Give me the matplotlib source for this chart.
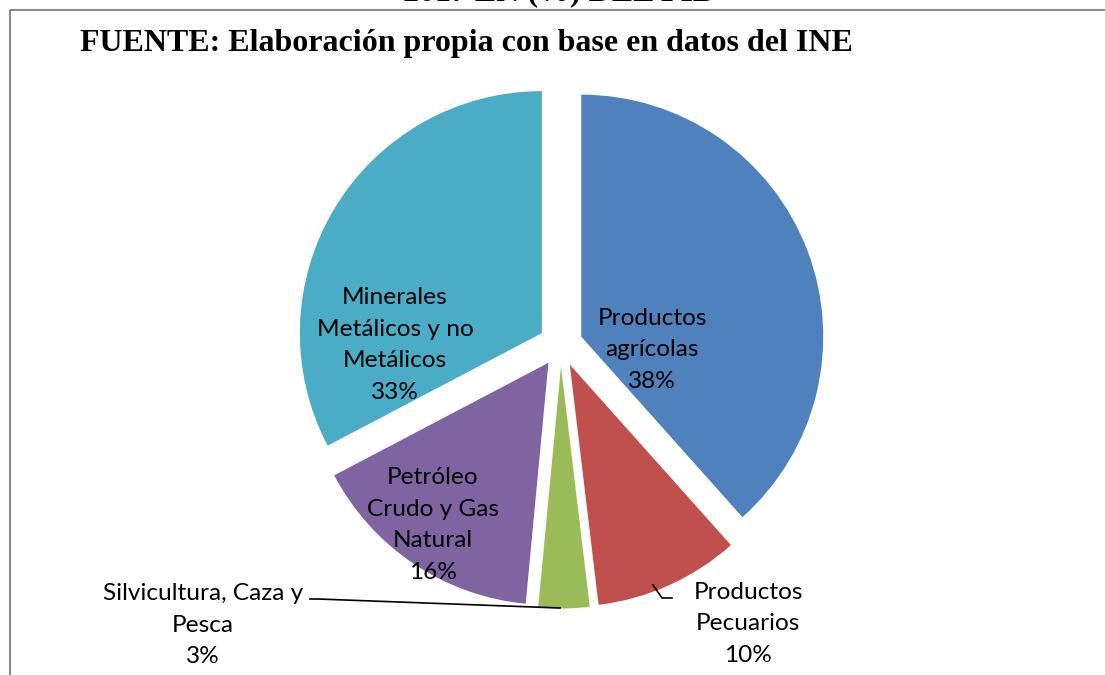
import matplotlib
matplotlib.use('Agg')
import matplotlib.pyplot as plt

# data (percent of GDP, INE)
categories = ['Productos\nagrícolas', 'Productos\nPecuarios', 'Silvicultura, Caza y\nPesca',
              'Petróleo\nCrudo y Gas\nNatural', 'Minerales\nMetálicos y no\nMetálicos']
values = [38.4, 9.7, 3.4, 15.8, 32.7]
colors = ['#4F81BD', '#C0504D', '#9BBB59', '#8064A2', '#4BACC6']

W, H = 1105, 675
fig = plt.figure(figsize=(W / 100, H / 100), dpi=100)
ax = fig.add_axes([0, 0, 1, 1])


def py(y):
    # pixel row -> data y
    return H - y


ax.pie(values, colors=colors, startangle=90, counterclock=False,
       explode=[22] * len(values), radius=242, center=(560.7, py(344.5)),
       frame=True)
ax.set_xlim(0, W)
ax.set_ylim(0, H)
ax.axis('off')

# frame of the chart area
ax.plot([10, 10, W], [0, py(10), py(10)], color='#8c8c8c', lw=1.5, clip_on=False)

# titles (the first one is cut by the top edge, as in the source)
serif = 'Liberation Serif'
ax.text(559, py(0.5), '2017 EN (%) DEL PIB', family=serif, weight='bold', fontsize=23,
        ha='center', va='baseline')
ax.text(80, py(43), 'FUENTE: Elaboración propia con base en datos del INE', family=serif,
        weight='bold', fontsize=23, ha='left', va='center')

lab = dict(family='Lato', fontsize=17.6, ha='center', va='center', linespacing=1.63)
pct = [f'{v:.0f}%' for v in values]

ax.text(652, py(350), f'{categories[0]}\n{pct[0]}', **lab)
ax.text(748, py(624), f'{categories[1]}\n{pct[1]}', **lab)
ax.text(203, py(625), f'{categories[2]}\n{pct[2]}', **lab)
ax.text(433, py(525), f'{categories[3]}\n{pct[3]}', **lab)
ax.text(395, py(345), f'{categories[4]}\n{pct[4]}', **lab)

# leader lines
ax.plot([310, 318, 560], [py(599), py(599), py(608)], color='black', lw=1.2)
ax.plot([653, 662, 672], [py(585), py(598), py(598)], color='black', lw=1.2)

fig.savefig('out.png', dpi=100, facecolor='white')
